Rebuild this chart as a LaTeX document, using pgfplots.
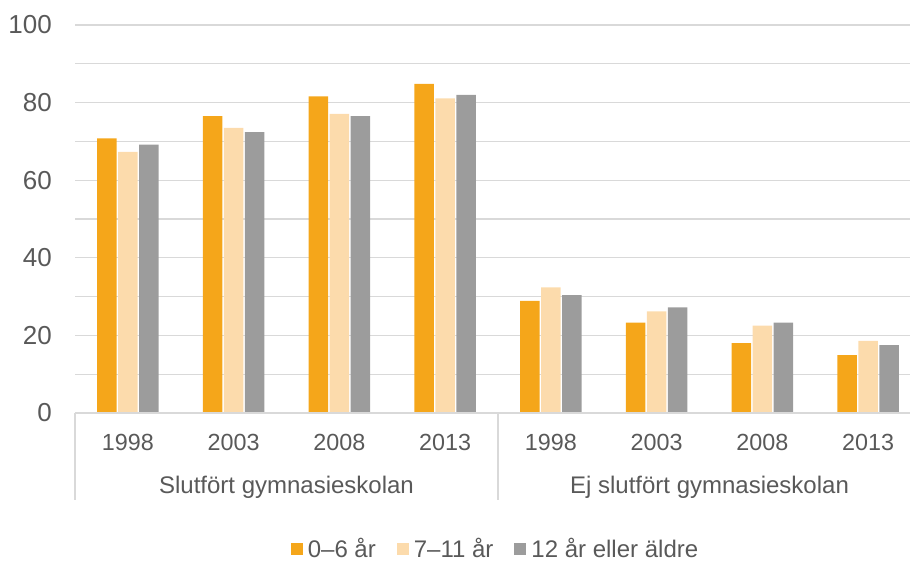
\documentclass[border=0pt]{standalone}
\usepackage{pgfplots}
\pgfplotsset{compat=1.18}
\usepackage{fontspec}
\setmainfont{Liberation Sans}
\definecolor{cOr}{HTML}{F5A61A}
\definecolor{cLt}{HTML}{FCDBAC}
\definecolor{cGr}{HTML}{9C9C9C}
\definecolor{gridc}{HTML}{D9D9D9}
\definecolor{txt}{HTML}{595959}
\begin{document}
\begin{tikzpicture}
\begin{axis}[
  at={(56.25pt,111pt)}, anchor=south west,
  width=634.5pt, height=291pt, scale only axis,
  xmin=-0.5, xmax=7.5, ymin=0, ymax=100,
  ybar=1.125pt, bar width=14.625pt,
  xtick={0,...,7}, xticklabels={1998,2003,2008,2013,1998,2003,2008,2013},
  ytick={0,10,...,100}, yticklabels={0,,20,,40,,60,,80,,100},
  ymajorgrids, grid style={gridc, line width=1pt},
  major tick length=0pt,
  axis line style={draw=none},
  xticklabel style={font=\fontsize{17.5}{20}\selectfont, text=txt, anchor=base, inner sep=0pt, yshift=-28.3pt},
  yticklabel style={font=\fontsize{19.5}{22}\selectfont, text=txt, anchor=east, inner sep=0pt, xshift=-17.25pt},
  /pgf/number format/assume math mode=true,
  clip=false,
  legend columns=3,
  legend style={draw=none, fill=none, font=\fontsize{18}{21}\selectfont, text=txt,
    at={(0.4959,-0.3505)}, anchor=center,
    nodes={inner xsep=0pt},
    /tikz/every odd column/.append style={column sep=3.75pt},
    /tikz/every even column/.append style={column sep=15.75pt}},
  legend image code/.code={\fill[#1] (0pt,-4.5pt) rectangle (9pt,4.5pt);},
]
\addplot[fill=cOr, draw=none] coordinates {(0,70.8)(1,76.5)(2,81.6)(3,84.8)(4,28.9)(5,23.3)(6,18.0)(7,14.9)};
\addplot[fill=cLt, draw=none] coordinates {(0,67.3)(1,73.5)(2,77.1)(3,81.1)(4,32.4)(5,26.2)(6,22.5)(7,18.6)};
\addplot[fill=cGr, draw=none] coordinates {(0,69.2)(1,72.4)(2,76.5)(3,82.0)(4,30.4)(5,27.2)(6,23.3)(7,17.5)};
\legend{0–6 år, 7–11 år, 12 år eller äldre}
\draw[gridc, line width=1pt] (-0.5,0) -- ++(0pt,-65.25pt);
\draw[gridc, line width=1pt] (3.5,0) -- ++(0pt,-65.25pt);
\draw[gridc, line width=1.3pt] (-0.5,0) -- (7.5,0);
\node[font=\fontsize{18}{21}\selectfont, text=txt, anchor=base, inner sep=0pt, yshift=-60pt] at (1.5,0) {Slutfört gymnasieskolan};
\node[font=\fontsize{18}{21}\selectfont, text=txt, anchor=base, inner sep=0pt, yshift=-60pt] at (5.5,0) {Ej slutfört gymnasieskolan};
\end{axis}
\pgfresetboundingbox
\useasboundingbox (0,0) rectangle (682.5pt,420.75pt);
\end{tikzpicture}
\end{document}
